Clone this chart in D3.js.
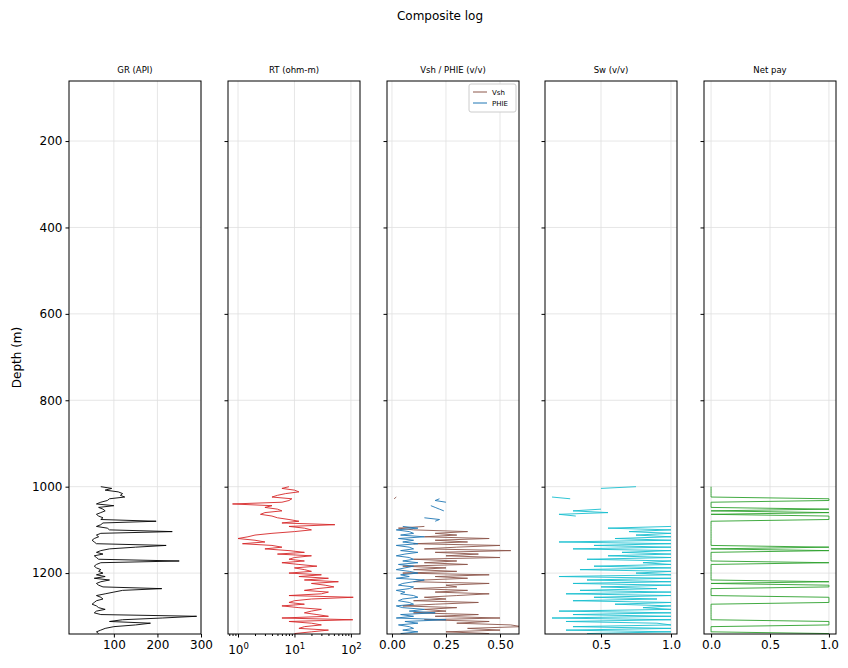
<!DOCTYPE html>
<html>
<head>
<meta charset="utf-8">
<script src="https://cdn.jsdelivr.net/npm/d3@7"></script>
<style>
  body { margin: 0; background: #fff; font-family: "DejaVu Sans", sans-serif; }
</style>
</head>
<body>
<script>
// depth samples every 4 m, 1000..1340
const depths = d3.range(1000, 1341, 4);

const gr = [70,95,80,110,120,115,125,90,85,70,
  60,100,65,75,80,70,60,65,75,70,
  197,75,70,60,85,90,234,70,60,65,
  55,50,55,60,220,150,90,70,60,75,
  55,60,65,250,70,60,55,60,70,65,
  75,60,80,55,90,70,60,65,75,210,
  120,100,80,60,70,75,60,55,50,60,
  65,80,60,55,70,290,211,120,90,184,
  150,100,80,70,60,65];

const rt = [8,6,10,12,7,5,4,9,8,6,
  0.8,4,3,5,6,3,2.5,4,5,8,
  12,6,52,8,15,20,10,4,2,1.5,
  1,2,3,1.2,4,6,3,8,15,5,
  20,10,8,15,6,12,25,10,15,20,
  8,30,12,40,15,60,20,35,50,25,
  15,40,30,8,110,20,10,8,15,6,
  12,30,20,15,25,40,6,108,8,20,
  30,15,12,40,20,10];

const vsh = [0.33,null,null,null,null,null,0.02,0.01,null,null,
  null,null,null,null,null,null,null,null,null,null,
  null,null,null,0.15,0.03,0.1,0.35,0.2,0.3,0.15,
  0.45,0.2,0.35,0.1,0.5,0.3,0.15,0.55,0.2,0.4,
  0.25,0.5,0.1,0.3,0.15,0.35,0.05,0.25,0.1,0.3,
  0.05,0.45,0.2,0.35,0.15,0.1,0.45,0.25,0.3,0.1,
  0.35,0.2,0.45,0.3,0.15,0.25,0.1,0.4,0.2,0.05,
  0.3,0.15,0.25,0.1,0.4,0.2,0.5,0.15,0.45,0.3,
  0.55,0.6,0.35,0.5,0.25,0.45];

const phie = [0.05,null,null,null,null,null,null,0.22,0.2,0.25,
  null,0.18,0.2,0.22,0.24,null,null,null,0.15,0.22,
  0.2,null,null,0.05,0.12,0.02,0.08,0.1,0.04,0.15,
  0.03,0.1,0.05,0.12,0.02,0.08,0.1,0.04,0.12,0.06,
  0.02,0.08,0.1,0.05,0.12,0.03,0.1,0.06,0.02,0.08,
  0.12,0.04,0.08,0.02,0.15,0.1,0.05,0.03,0.1,0.08,
  0.02,0.06,0.04,0.1,0.12,0.05,0.03,0.08,0.1,0.02,
  0.05,0.15,0.08,0.2,0.04,0.1,0.02,0.25,0.06,0.12,
  0.03,0.08,0.1,0.05,0.12,0.04];

const sw = [0.75,0.5,null,null,null,null,0.15,0.28,null,null,
  null,null,null,0.5,0.3,0.55,0.2,0.32,null,null,
  null,null,null,1,0.55,1,0.7,1,0.75,1,
  0.6,1,0.2,1,0.45,1,0.3,1,0.65,1,
  0.55,1,0.4,1,0.8,1,0.45,1,0.35,1,
  0.75,1,0.2,1,0.4,1,0.3,1,0.5,0.9,
  0.35,1,0.25,1,0.45,0.9,0.3,1,0.6,1,
  0.8,1,0.2,1,0.3,1,0.15,1,0.25,0.9,
  1,0.3,1,0.25,1,0.4];

const pay = [0,0,0,0,0,0,0,1,1,0,
  0,0,0,1,0,1,0,1,1,1,
  0,0,0,0,0,0,0,0,0,0,
  0,0,0,0,0,1,0,1,0,0,
  0,0,0,0,1,0,0,0,0,0,
  0,0,0,0,0,1,0,1,1,0,
  0,0,0,0,1,1,1,1,0,0,
  0,0,0,0,0,0,0,0,1,1,
  1,0,0,0,0,1];

const depthTicks = [200, 400, 600, 800, 1000, 1200];

const W = 848, H = 668;
const plotTop = 81, plotBottom = 634, pw = 132;
const panelX = [69, 228, 387, 545, 704];

const svg = d3.select("body").append("svg").attr("width", W).attr("height", H);

svg.append("text").attr("x", 440).attr("y", 20).attr("text-anchor", "middle")
  .style("font-size", "12px").text("Composite log");

const y = d3.scaleLinear().domain([61, 1341]).range([plotTop, plotBottom]);

const panels = [
  { title: "GR (API)", x: d3.scaleLinear().domain([-3, 300]), ticks: [100, 200, 300], fmt: d3.format("d"),
    curves: [{ v: gr, color: "#000" }] },
  { title: "RT (ohm-m)", x: d3.scaleLog().domain([0.665, 145]), ticks: [1, 10, 100], log: true,
    curves: [{ v: rt, color: "#d62728" }] },
  { title: "Vsh / PHIE (v/v)", x: d3.scaleLinear().domain([-0.023, 0.588]), ticks: [0, 0.25, 0.5], fmt: d3.format(".2f"),
    curves: [{ v: vsh, color: "#8c564b", name: "Vsh" }, { v: phie, color: "#1f77b4", name: "PHIE" }], legend: true },
  { title: "Sw (v/v)", x: d3.scaleLinear().domain([0.1, 1.043]), ticks: [0.5, 1], fmt: d3.format(".1f"),
    curves: [{ v: sw, color: "#17becf" }] },
  { title: "Net pay", x: d3.scaleLinear().domain([-0.06, 1.06]), ticks: [0, 0.5, 1], fmt: d3.format(".1f"),
    curves: [{ v: pay, color: "#2ca02c" }] },
];

panels.forEach((p, k) => {
  const x0 = panelX[k];
  p.x.range([x0, x0 + pw]);
  const g = svg.append("g");

  // grid
  g.selectAll(".gy").data(depthTicks).enter().append("line")
    .attr("x1", x0).attr("x2", x0 + pw).attr("y1", d => y(d)).attr("y2", d => y(d))
    .attr("stroke", "#e0e0e0").attr("stroke-width", 0.8);
  g.selectAll(".gx").data(p.ticks).enter().append("line")
    .attr("x1", d => p.x(d)).attr("x2", d => p.x(d)).attr("y1", plotTop).attr("y2", plotBottom)
    .attr("stroke", "#e0e0e0").attr("stroke-width", 0.8);

  const clipId = "clip" + k;
  svg.append("clipPath").attr("id", clipId).append("rect")
    .attr("x", x0).attr("y", plotTop).attr("width", pw).attr("height", plotBottom - plotTop);

  p.curves.forEach(c => {
    const line = d3.line()
      .defined((d, i) => c.v[i] != null)
      .x((d, i) => p.x(c.v[i]))
      .y(d => y(d));
    g.append("path").datum(depths).attr("d", line)
      .attr("clip-path", `url(#${clipId})`)
      .attr("fill", "none").attr("stroke", c.color).attr("stroke-width", 0.9);
  });

  // frame
  g.append("rect").attr("x", x0).attr("y", plotTop).attr("width", pw).attr("height", plotBottom - plotTop)
    .attr("fill", "none").attr("stroke", "#000").attr("stroke-width", 1);

  // y axis
  const ya = g.append("g").attr("transform", `translate(${x0},0)`)
    .call(d3.axisLeft(y).tickValues(depthTicks).tickSize(3.5).tickFormat(k === 0 ? d3.format("d") : ""));
  ya.select(".domain").remove();
  ya.selectAll("text").style("font-size", "12px").style("font-family", "DejaVu Sans").attr("fill", "#000");

  // x axis
  let xa;
  if (p.log) {
    const minor = [];
    [0.1, 1, 10, 100].forEach(b => d3.range(2, 10).forEach(m => {
      const v = b * m; if (v > 0.665 && v < 145) minor.push(v);
    }));
    g.append("g").attr("transform", `translate(0,${plotBottom})`)
      .call(d3.axisBottom(p.x).tickValues(minor).tickSize(2).tickFormat(""))
      .select(".domain").remove();
    xa = g.append("g").attr("transform", `translate(0,${plotBottom})`)
      .call(d3.axisBottom(p.x).tickValues(p.ticks).tickSize(3.5).tickFormat(""));
    xa.selectAll(".tick").append("text").attr("y", 20).attr("text-anchor", "middle")
      .attr("fill", "#000").style("font-size", "12px").style("font-family", "DejaVu Sans")
      .each(function (d) {
        const t = d3.select(this);
        t.append("tspan").text("10");
        t.append("tspan").attr("dy", -5).style("font-size", "8.5px").text(Math.round(Math.log10(d)));
      });
  } else {
    xa = g.append("g").attr("transform", `translate(0,${plotBottom})`)
      .call(d3.axisBottom(p.x).tickValues(p.ticks).tickSize(3.5).tickFormat(p.fmt));
    xa.selectAll("text").style("font-size", "12px").style("font-family", "DejaVu Sans").attr("fill", "#000");
  }
  xa.select(".domain").remove();

  g.append("text").attr("x", x0 + pw / 2).attr("y", 73).attr("text-anchor", "middle")
    .style("font-size", "8.5px").text(p.title);

  if (p.legend) {
    const lx = x0 + pw - 50, ly = plotTop + 3;
    g.append("rect").attr("x", lx).attr("y", ly).attr("width", 47).attr("height", 28)
      .attr("fill", "#fff").attr("stroke", "#ccc").attr("rx", 2);
    p.curves.forEach((c, i) => {
      const yy = ly + 8 + i * 11;
      g.append("line").attr("x1", lx + 4).attr("x2", lx + 18).attr("y1", yy).attr("y2", yy)
        .attr("stroke", c.color).attr("stroke-width", 1);
      g.append("text").attr("x", lx + 23).attr("y", yy + 2.5).style("font-size", "7px").text(c.name);
    });
  }
});

svg.append("text").attr("transform", `translate(21,${(plotTop + plotBottom) / 2}) rotate(-90)`)
  .attr("text-anchor", "middle").style("font-size", "12px").text("Depth (m)");
</script>
</body>
</html>
